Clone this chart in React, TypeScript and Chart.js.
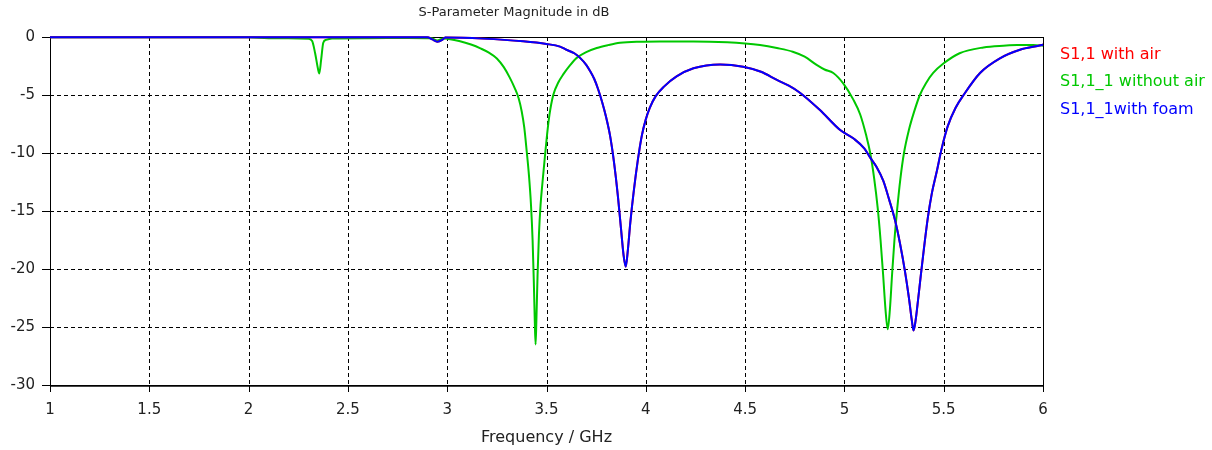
import React, { useEffect, useRef } from "react";
import { Chart, registerables } from "chart.js";

Chart.register(...registerables);

// ---- Data ----
const xTickValues = [1, 1.5, 2, 2.5, 3, 3.5, 4, 4.5, 5, 5.5, 6];
const xTickLabels = ["1", "1.5", "2", "2.5", "3", "3.5", "4", "4.5", "5", "5.5", "6"];
const yTickValues = [0, -5, -10, -15, -20, -25, -30];
const yTickLabels = ["0", "-5", "-10", "-15", "-20", "-25", "-30"];

const chartTitle = "S-Parameter Magnitude in dB";
const xAxisTitle = "Frequency / GHz";
const seriesNames = ["S1,1 with air", "S1,1_1 without air", "S1,1_1with foam"];

// S1,1_1 with foam (GHz, dB)
const foamFreq = [
  1.0, 2.0, 2.9, 2.925, 2.95, 2.975, 2.99, 3.18, 3.383, 3.5, 3.568, 3.6, 3.64, 3.669, 3.7,
  3.72, 3.74, 3.76, 3.78, 3.8, 3.82, 3.84, 3.86, 3.875, 3.888, 3.899, 3.91, 3.922, 3.94,
  3.96, 3.98, 4.0, 4.02, 4.05, 4.09, 4.155, 4.24, 4.374, 4.49, 4.58, 4.66, 4.72, 4.776,
  4.877, 4.977, 5.05, 5.1, 5.13, 5.162, 5.196, 5.225, 5.255, 5.28, 5.305, 5.325, 5.34,
  5.348, 5.358, 5.372, 5.385, 5.4, 5.42, 5.44, 5.465, 5.49, 5.52, 5.56, 5.6, 5.683, 5.783,
  5.884, 5.993, 6.0,
];
const foamDb = [
  -0.02, -0.02, -0.03, -0.2, -0.4, -0.25, -0.05, -0.14, -0.37, -0.6, -0.83, -1.1, -1.4, -1.8, -2.4,
  -2.95, -3.6, -4.5, -5.6, -6.9, -8.5, -10.8, -13.8, -16.5, -18.8, -19.8, -18.3, -16.0, -13.2,
  -10.6, -8.5, -7.1, -6.1, -5.1, -4.3, -3.4, -2.7, -2.36, -2.56, -3.0, -3.7, -4.2, -4.8,
  -6.3, -8.0, -8.8, -9.6, -10.4, -11.2, -12.4, -14.0, -15.8, -17.8, -20.2, -22.5, -24.5,
  -25.3, -24.5, -22.5, -20.5, -18.3, -15.6, -13.5, -11.6, -9.6, -7.7, -6.1, -5.0, -3.1, -1.84,
  -1.1, -0.69, -0.65,
];

// S1,1 with air (coincides with the foam trace, drawn underneath it)
const airFreq = foamFreq;
const airDb = foamDb;

// S1,1_1 without air (GHz, dB)
const noAirFreq = [
  1.0, 2.0, 2.1, 2.2, 2.3, 2.32, 2.335, 2.35, 2.356, 2.365, 2.376, 2.39, 2.42, 2.6, 2.8,
  2.92, 2.95, 2.98, 3.0, 3.06, 3.12, 3.17, 3.21, 3.25, 3.285, 3.315, 3.34, 3.36, 3.375,
  3.388, 3.4, 3.412, 3.422, 3.43, 3.436, 3.441, 3.445, 3.449, 3.455, 3.462, 3.47, 3.48,
  3.492, 3.503, 3.515, 3.534, 3.56, 3.585, 3.62, 3.652, 3.7, 3.753, 3.81, 3.87, 3.97,
  4.07, 4.24, 4.41, 4.5, 4.575, 4.66, 4.74, 4.8, 4.86, 4.9, 4.944, 4.994, 5.045, 5.08, 5.11,
  5.13, 5.15, 5.168, 5.182, 5.195, 5.207, 5.218, 5.229, 5.24, 5.252, 5.266, 5.282, 5.3,
  5.325, 5.35, 5.38, 5.41, 5.447, 5.5, 5.58, 5.7, 5.8, 5.87, 5.95, 6.0,
];
const noAirDb = [
  -0.02, -0.03, -0.1, -0.1, -0.15, -0.35, -1.4, -2.8, -3.15, -2.0, -0.5, -0.25, -0.12, -0.1, -0.08,
  -0.1, -0.3, -0.12, -0.15, -0.35, -0.65, -1.0, -1.35, -1.85, -2.6, -3.5, -4.4, -5.3, -6.4,
  -7.8, -9.8, -12.0, -14.5, -17.5, -21.0, -24.5, -26.5, -24.5, -20.5, -17.0, -14.5, -12.5,
  -10.3, -8.4, -6.7, -5.0, -3.9, -3.2, -2.4, -1.8, -1.3, -0.95, -0.7, -0.5, -0.4,
  -0.38, -0.38, -0.45, -0.55, -0.69, -0.95, -1.27, -1.7, -2.4, -2.8, -3.1, -4.0, -5.4, -6.7, -8.5,
  -10.0, -12.2, -14.8, -17.5, -20.5, -23.5, -25.2, -23.5, -20.5, -17.5, -14.8, -12.2, -10.0,
  -8.0, -6.5, -5.0, -4.0, -3.1, -2.27, -1.4, -0.9, -0.75, -0.7, -0.68, -0.75,
];

// ---- Styles ----
const RED = "#ff0000";
const GREEN = "#00c800";
const BLUE = "#0000ff";
const FONT = "'DejaVu Sans', sans-serif";
const TEXT = "#222222";

const toPoints = (xs: number[], ys: number[]) => xs.map((x, i) => ({ x, y: ys[i] }));

const framePlugin = {
  id: "framePlugin",
  beforeDatasetsDraw(chart: any) {
    const { ctx, chartArea, scales } = chart;
    const { left, right, top, bottom } = chartArea;
    ctx.save();
    ctx.strokeStyle = "#000000";
    ctx.lineWidth = 1;
    ctx.setLineDash([4, 3]);
    xTickValues.forEach((v) => {
      const px = Math.round(scales.x.getPixelForValue(v)) + 0.5;
      if (px <= left + 1 || px >= right - 1) return;
      ctx.beginPath();
      ctx.moveTo(px, top);
      ctx.lineTo(px, bottom);
      ctx.stroke();
    });
    yTickValues.forEach((v) => {
      const py = Math.round(scales.y.getPixelForValue(v)) + 0.5;
      if (py <= top + 1 || py >= bottom - 1) return;
      ctx.beginPath();
      ctx.moveTo(left, py);
      ctx.lineTo(right, py);
      ctx.stroke();
    });
    ctx.setLineDash([]);
    ctx.strokeStyle = "#000000";
    ctx.lineWidth = 1;
    ctx.strokeRect(Math.round(left) + 0.5, Math.round(top) + 0.5, Math.round(right - left), Math.round(bottom - top));
    ctx.strokeStyle = "#444444";
    ctx.beginPath();
    ctx.moveTo(left, Math.round(bottom) + 1.5);
    ctx.lineTo(right, Math.round(bottom) + 1.5);
    ctx.stroke();
    ctx.strokeStyle = "#000000";
    xTickValues.forEach((v) => {
      const px = Math.round(scales.x.getPixelForValue(v)) + 0.5;
      ctx.beginPath();
      ctx.moveTo(px, bottom);
      ctx.lineTo(px, bottom + 7);
      ctx.stroke();
    });
    yTickValues.forEach((v) => {
      const py = Math.round(scales.y.getPixelForValue(v)) + 0.5;
      ctx.beginPath();
      ctx.moveTo(left - 8, py);
      ctx.lineTo(left, py);
      ctx.stroke();
    });
    ctx.restore();
  },
  afterDraw(chart: any) {
    const { ctx } = chart;
    ctx.save();
    ctx.textBaseline = "middle";
    ctx.textAlign = "center";
    ctx.fillStyle = TEXT;
    ctx.font = `13px ${FONT}`;
    ctx.fillText(chartTitle, 514, 13);
    ctx.textAlign = "left";
    ctx.font = `16px ${FONT}`;
    const colors = [RED, GREEN, BLUE];
    const ys = [55, 82, 110];
    seriesNames.forEach((name, i) => {
      ctx.fillStyle = colors[i];
      ctx.fillText(name, 1060, ys[i]);
    });
    ctx.restore();
  },
};

export default function App() {
  const canvasRef = useRef<HTMLCanvasElement | null>(null);

  useEffect(() => {
    document.body.style.margin = "0";
    const canvas = canvasRef.current;
    if (!canvas) return;
    const common = { borderWidth: 2, pointRadius: 0, cubicInterpolationMode: "monotone", clip: false };
    const chart = new Chart(canvas, {
      type: "line",
      data: {
        datasets: [
          { label: seriesNames[2], data: toPoints(foamFreq, foamDb), borderColor: BLUE, order: 0, ...common },
          { label: seriesNames[0], data: toPoints(airFreq, airDb), borderColor: RED, order: 1, ...common },
          { label: seriesNames[1], data: toPoints(noAirFreq, noAirDb), borderColor: GREEN, order: 2, ...common },
        ],
      },
      options: {
        animation: false,
        responsive: false,
        devicePixelRatio: 1,
        layout: { padding: { top: 37, right: 169, left: 0, bottom: 0 } },
        plugins: {
          legend: { display: false },
          title: { display: false },
          tooltip: { enabled: false },
        },
        scales: {
          x: {
            type: "linear",
            min: 1,
            max: 6,
            afterBuildTicks: (s: any) => {
              s.ticks = xTickValues.map((v) => ({ value: v }));
            },
            afterFit: (s: any) => {
              s.height = 65;
            },
            grid: { display: false, drawTicks: false },
            border: { display: false },
            ticks: {
              autoSkip: false,
              maxRotation: 0,
              padding: 16,
              color: TEXT,
              font: { family: FONT, size: 15 },
              callback: (_v: any, i: number) => xTickLabels[i],
            },
            title: {
              display: true,
              text: xAxisTitle,
              color: TEXT,
              font: { family: FONT, size: 16 },
              padding: { top: 0, bottom: 3 },
            },
          },
          y: {
            type: "linear",
            min: -30,
            max: 0,
            afterBuildTicks: (s: any) => {
              s.ticks = yTickValues.map((v) => ({ value: v }));
            },
            afterFit: (s: any) => {
              s.width = 50;
            },
            grid: { display: false, drawTicks: false },
            border: { display: false },
            ticks: {
              autoSkip: false,
              padding: 15,
              color: TEXT,
              font: { family: FONT, size: 15 },
              callback: (_v: any, i: number) => yTickLabels[i],
            },
          },
        },
      },
      plugins: [framePlugin],
    } as any);
    return () => chart.destroy();
  }, []);

  return (
    <div style={{ width: 1212, height: 450, background: "#ffffff" }}>
      <canvas ref={canvasRef} width={1212} height={450} style={{ display: "block" }} />
    </div>
  );
}
